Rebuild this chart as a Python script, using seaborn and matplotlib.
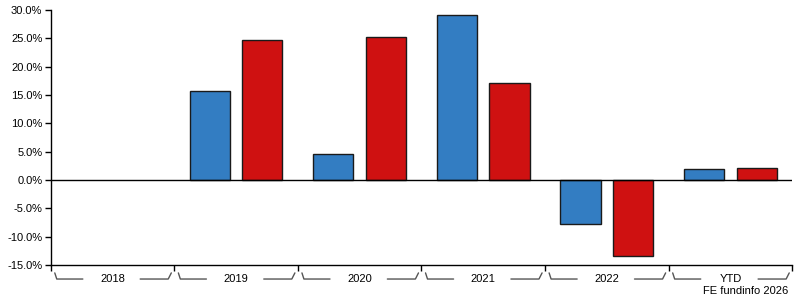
import numpy as np
import pandas as pd
import matplotlib
matplotlib.use("Agg")
import matplotlib.pyplot as plt
import matplotlib.transforms as mtransforms
import seaborn as sns
from matplotlib.ticker import FuncFormatter, MultipleLocator

categories = ["2018", "2019", "2020", "2021", "2022", "YTD"]
fund = [np.nan, 15.7, 4.6, 29.1, -7.8, 1.9]
sector = [np.nan, 24.7, 25.2, 17.1, -13.4, 2.1]
series_names = ["Fund", "Sector"]
colors = ["#337dc2", "#cf1111"]

df = pd.DataFrame({
    "year": categories * 2,
    "series": [series_names[0]] * len(categories) + [series_names[1]] * len(categories),
    "value": fund + sector,
})

sns.set_style("white")
plt.rcParams["font.family"] = ["Liberation Sans", "DejaVu Sans"]
plt.rcParams["font.size"] = 8
plt.rcParams["text.color"] = "black"
plt.rcParams["xtick.color"] = "black"
plt.rcParams["ytick.color"] = "black"
plt.rcParams["xtick.labelcolor"] = "black"
plt.rcParams["ytick.labelcolor"] = "black"

fig = plt.figure(figsize=(7.95, 3.0), dpi=100)
ax = fig.add_axes([50.7 / 795, 35 / 300, 741.5 / 795, 255 / 300])

sns.barplot(data=df, x="year", y="value", hue="series", order=categories,
            hue_order=series_names, palette=colors, saturation=1, width=0.85, gap=0.235,
            edgecolor="#1a1a1a", linewidth=1.0, legend=False, ax=ax, errorbar=None)

ax.set_xlim(-0.5, len(categories) - 0.5)
ax.set_ylim(-15, 30)
ax.yaxis.set_major_locator(MultipleLocator(5))
ax.yaxis.set_major_formatter(FuncFormatter(lambda v, p: f"{v:.1f}%"))
ax.tick_params(axis="y", direction="out", length=4, width=1, color="black",
               labelsize=8, pad=2, left=True, labelcolor="black")
ax.axhline(0, color="black", linewidth=1, zorder=5)

for s in ["top", "right"]:
    ax.spines[s].set_visible(False)
for s in ["left", "bottom"]:
    ax.spines[s].set_color("black")
    ax.spines[s].set_linewidth(1)

bounds = np.arange(len(categories) + 1) - 0.5
ax.set_xticks(bounds)
ax.set_xticklabels([])
ax.tick_params(axis="x", direction="out", length=4, width=1, color="black", bottom=True)
ax.set_xlabel("")
ax.set_ylabel("")

trans = mtransforms.blended_transform_factory(ax.transData, ax.transAxes)
for i, lab in enumerate(categories):
    x0 = i - 0.5
    ax.plot([x0 + 0.033, x0 + 0.049, x0 + 0.26], [-0.031, -0.055, -0.055],
            transform=trans, clip_on=False, color="#555555", lw=1)
    ax.plot([x0 + 0.724, x0 + 0.951, x0 + 0.976], [-0.055, -0.055, -0.031],
            transform=trans, clip_on=False, color="#555555", lw=1)
    ax.text(i, -0.055, lab, transform=trans, ha="center", va="center", fontsize=8,
            color="black")

fig.text(788 / 795, 1 - 291 / 300, "FE fundinfo 2026", ha="right", va="center",
         fontsize=8, color="black")

fig.savefig("out.png", dpi=100)
